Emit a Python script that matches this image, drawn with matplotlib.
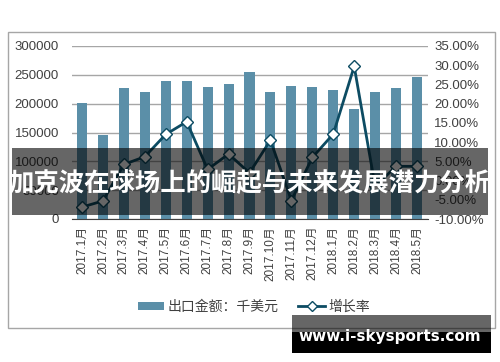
import matplotlib
matplotlib.use("Agg")
import matplotlib.pyplot as plt
from matplotlib.patches import Rectangle, Patch
from matplotlib.lines import Line2D
from matplotlib.ticker import FuncFormatter

plt.rcParams['font.family'] = ['Liberation Sans', 'Noto Sans CJK SC', 'DejaVu Sans']

# data
months = ['2017.1月', '2017.2月', '2017.3月', '2017.4月', '2017.5月', '2017.6月',
          '2017.7月', '2017.8月', '2017.9月', '2017.10月', '2017.11月', '2017.12月',
          '2018.1月', '2018.2月', '2018.3月', '2018.4月', '2018.5月']
export_value = [201000, 146000, 228000, 220500, 238500, 240000, 229500, 233500, 255500,
                221000, 231500, 229500, 224000, 190500, 221000, 228000, 246000]
growth_rate = [-6.9, -5.3, 4.2, 6.2, 12.0, 15.3, 2.9, 6.9, 2.0,
               10.5, -5.2, 6.0, 12.1, 29.7, -1.5, 3.7, 3.7]

bar_color = '#5B8FA8'
line_color = '#0D4C63'
text_color = '#404040'

W, H = 500, 362
fig = plt.figure(figsize=(5, 3.62), dpi=100)

# outer chart frame
fig.patches.append(Rectangle((8 / W, 1 - 328 / H), 487 / W, 296 / H, transform=fig.transFigure,
                             fill=False, edgecolor='#A6A6A6', linewidth=1))

ax = fig.add_axes([71.5 / W, 1 - 219 / H, 356 / W, 173 / H])
x = range(len(months))
ax.bar(x, export_value, width=0.48, color=bar_color, zorder=2)
ax.set_ylim(0, 300000)
ax.set_xlim(-0.5, len(months) - 0.5)
ax.set_yticks(range(0, 300001, 50000))
ax.yaxis.grid(True, color='#A6A6A6', linewidth=1, zorder=0)
ax.set_axisbelow(True)
for s in ['top', 'right', 'left']:
    ax.spines[s].set_visible(False)
ax.spines['bottom'].set_color('#404040')
ax.spines['bottom'].set_zorder(3)
ax.tick_params(axis='y', length=0, pad=9, labelsize=9.5, labelcolor=text_color)
ax.tick_params(axis='x', length=0, pad=5, labelsize=8.5, labelcolor=text_color)
ax.set_xticks(list(x))
ax.set_xticklabels(months, rotation=90)

ax2 = ax.twinx()
ax2.plot(x, growth_rate, color=line_color, linewidth=2, marker='D', markersize=6.5,
         markerfacecolor='white', markeredgecolor=line_color, markeredgewidth=1, zorder=4)
ax2.set_ylim(-10, 35)
ax2.set_yticks(range(-10, 36, 5))
ax2.yaxis.set_major_formatter(FuncFormatter(lambda v, p: '%.2f%%' % v))
for s in ['top', 'right', 'left', 'bottom']:
    ax2.spines[s].set_visible(False)
ax2.tick_params(axis='y', length=0, pad=5, labelsize=9.5, labelcolor=text_color)

handles = [Patch(facecolor=bar_color, edgecolor='none'),
           Line2D([0], [0], color=line_color, linewidth=2, marker='D', markersize=5,
                  markerfacecolor='white', markeredgecolor=line_color)]
fig.legend(handles, ['出口金额：千美元', '增长率'], loc='center', ncol=2,
           bbox_to_anchor=(254 / W, 1 - 307 / H), frameon=False, fontsize=10,
           labelcolor=text_color, handlelength=1.9, handleheight=0.55,
           columnspacing=1.4, handletextpad=0.25)

# overlay banner
fig.patches.append(Rectangle((12 / W, 1 - 215 / H), 476 / W, 67 / H, transform=fig.transFigure,
                             facecolor='black', alpha=0.6, edgecolor='none', zorder=10))
fig.text(250 / W, 1 - 184 / H, '加克波在球场上的崛起与未来发展潜力分析', color='white',
         fontsize=18.3, fontweight='bold', ha='center', va='center',
         family=['Noto Sans CJK SC'], zorder=11)

# watermark box
fig.patches.append(Rectangle((292 / W, 1 - 332 / H), 199 / W, 17 / H, transform=fig.transFigure,
                             facecolor='black', alpha=0.6, edgecolor='none', zorder=10))
fig.patches.append(Rectangle((292 / W, 1 - 353 / H), 199 / W, 21 / H, transform=fig.transFigure,
                             facecolor='black', edgecolor='none', zorder=10))
fig.text(390 / W, 1 - 337 / H, 'www.i-skysports.com', color='white', fontsize=11,
         fontweight='bold', ha='center', va='center', family=['DejaVu Sans'], zorder=11)

fig.savefig('out.png', dpi=100)
